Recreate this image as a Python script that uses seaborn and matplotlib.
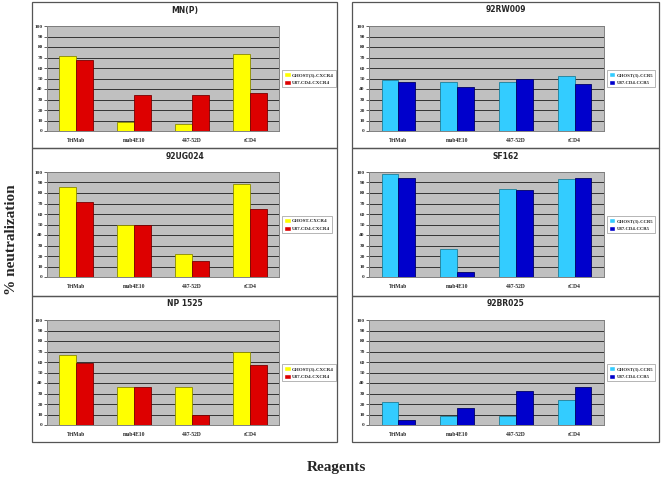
import pandas as pd
import matplotlib.pyplot as plt
import seaborn as sns
from matplotlib.patches import Rectangle

sns.set_theme(style="white")

reagents = ["TriMab", "mab4E10", "447-52D", "sCD4"]

# left column: CXCR4 viruses
mnp_ghost = [71, 9, 7, 73]
mnp_u87 = [68, 34, 34, 36]
ug024_ghost = [86, 50, 22, 89]
ug024_u87 = [71, 50, 15, 65]
np1525_ghost = [67, 36, 36, 70]
np1525_u87 = [59, 36, 10, 57]

# right column: CCR5 viruses
rw009_ghost = [49, 47, 47, 52]
rw009_u87 = [47, 42, 50, 45]
sf162_ghost = [98, 27, 84, 93]
sf162_u87 = [94, 5, 83, 94]
br025_ghost = [22, 9, 9, 24]
br025_u87 = [5, 16, 32, 36]

panels = [
    # title, col, row, series labels, values
    ("MN(P)", 0, 0, ["GHOST(3)-CXCR4", "U87.CD4-CXCR4"], [mnp_ghost, mnp_u87]),
    ("92UG024", 0, 1, ["GHOST-CXCR4", "U87.CD4-CXCR4"], [ug024_ghost, ug024_u87]),
    ("NP 1525", 0, 2, ["GHOST(3)-CXCR4", "U87.CD4-CXCR4"], [np1525_ghost, np1525_u87]),
    ("92RW009", 1, 0, ["GHOST(3)-CCR5", "U87.CD4-CCR5"], [rw009_ghost, rw009_u87]),
    ("SF162", 1, 1, ["GHOST(3)-CCR5", "U87.CD4-CCR5"], [sf162_ghost, sf162_u87]),
    ("92BR025", 1, 2, ["GHOST(3)-CCR5", "U87.CD4-CCR5"], [br025_ghost, br025_u87]),
]

W, H = 661, 478
fig = plt.figure(figsize=(W / 100, H / 100), dpi=100)

box_x = [(32, 337), (352, 659)]
box_y = [(2, 148), (148, 296), (296, 442)]
plot_x = [(47, 279), (369, 604)]
pal = [["#FFFF00", "#DD0000"], ["#33CCFF", "#0000CC"]]
edge = [["#8A8A00", "#7A0000"], ["#1E7F99", "#000066"]]

serif = "Liberation Serif"


def fx(px):
    return px / W


def fy(py):
    return 1 - py / H


for title, col, row, labels, vals in panels:
    x0, x1 = box_x[col]
    y0, y1 = box_y[row]
    fig.patches.append(Rectangle((fx(x0), fy(y1)), fx(x1 - x0), (y1 - y0) / H,
                                 transform=fig.transFigure, fill=False,
                                 edgecolor="#555555", lw=0.9))
    fig.text(fx((x0 + x1) / 2), fy(y0 + 8), title, ha="center", va="center",
             fontsize=5.5, fontweight="bold", family="DejaVu Sans")

    px0, px1 = plot_x[col]
    ptop, pbot = y0 + 24, y0 + 129
    ax = fig.add_axes([fx(px0), fy(pbot), fx(px1 - px0), (pbot - ptop) / H])

    df = pd.DataFrame({
        "reagent": reagents * 2,
        "cell": [labels[0]] * 4 + [labels[1]] * 4,
        "value": vals[0] + vals[1],
    })
    sns.barplot(data=df, x="reagent", y="value", hue="cell", ax=ax,
                palette=pal[col], width=0.57, saturation=1, zorder=3)
    for cont, ec in zip(ax.containers, edge[col]):
        for bar in cont:
            bar.set_edgecolor(ec)
            bar.set_linewidth(0.6)

    ax.set_facecolor("#C0C0C0")
    ax.set_ylim(0, 100)
    ax.set_yticks(range(0, 101, 10))
    ax.yaxis.grid(True, color="#333333", lw=0.7, zorder=0)
    ax.set_axisbelow(True)
    ax.set_xlabel("")
    ax.set_ylabel("")
    for s in ax.spines.values():
        s.set_color("#808080")
        s.set_linewidth(0.7)
    ax.tick_params(axis="y", labelsize=3.8, length=2, width=0.5, pad=1, left=True)
    ax.tick_params(axis="x", labelsize=4, length=0, pad=5)
    for t in ax.get_xticklabels() + ax.get_yticklabels():
        t.set_family(serif)
        t.set_fontweight("bold")

    ax.legend(loc="center left", bbox_to_anchor=(fx(px1 + 3), fy((ptop + pbot) / 2)),
              bbox_transform=fig.transFigure, title=None, frameon=True,
              fancybox=False, edgecolor="#999999", framealpha=1,
              prop={"family": serif, "weight": "bold", "size": 3.4 if col else 3.6},
              handlelength=1.3, handleheight=1.3, handletextpad=0.25,
              borderpad=0.45, borderaxespad=0, labelspacing=0.45)
    leg = ax.get_legend()
    leg.get_frame().set_linewidth(0.5)

fig.text(fx(12), fy(240), "% neutralization", rotation=90, ha="center", va="center",
         fontsize=11, fontweight="bold", family=serif)
fig.text(fx(336), fy(468), "Reagents", ha="center", va="center",
         fontsize=11, fontweight="bold", family=serif)

fig.savefig("out.png", dpi=100)
